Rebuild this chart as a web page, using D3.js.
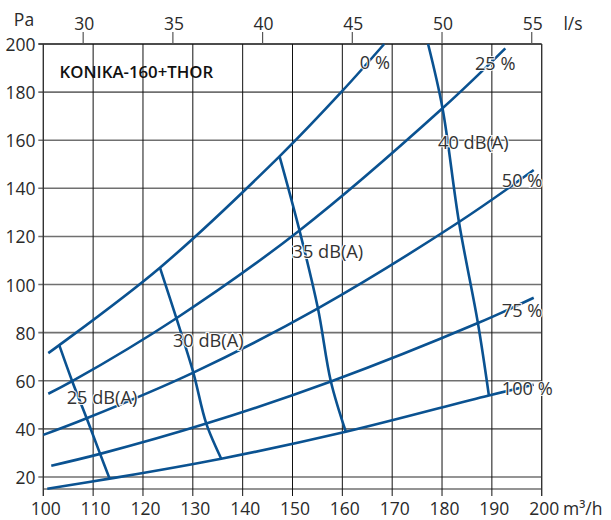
<!DOCTYPE html>
<html>
<head>
<meta charset="utf-8">
<script src="https://cdn.jsdelivr.net/npm/d3@7/dist/d3.min.js"></script>
<style>
  html, body { margin: 0; padding: 0; background: #fff; }
  svg { display: block; font-family: "Open Sans", "Noto Sans", sans-serif; }
</style>
</head>
<body>
<svg id="chart" width="611" height="520"></svg>
<script>
// ---- data (m³/h, Pa) ----
const xTicks = [100, 110, 120, 130, 140, 150, 160, 170, 180, 190, 200];
const yTicks = [20, 40, 60, 80, 100, 120, 140, 160, 180, 200];
const lsTicks = [30, 35, 40, 45, 50, 55];

const curve0 = [[101, 71.5], [103.2, 74.8], [123.4, 107], [147.4, 153.3], [160, 180.5], [168.4, 200]];
const curve25 = [[101, 54.6], [105.8, 59.8], [126.7, 86], [151.4, 122.5], [180.1, 173.3], [192.7, 198.2]];
const curve50 = [[100, 37.5], [108.7, 44.4], [130.1, 63.4], [155.1, 90.1], [183.4, 126], [198.4, 147.6]];
const curve75 = [[101.6, 24.7], [111.4, 29.6], [132.7, 42.2], [157.7, 59.7], [187.2, 84], [198.4, 94.5]];
const curve100 = [[100.8, 15.1], [113.3, 19.3], [135.7, 27.6], [160.7, 38.8], [189.4, 53.9], [198.4, 58.3]];

const db25 = [[103.2, 74.8], [105.8, 59.8], [108.7, 44.4], [111.4, 29.6], [113.3, 19.3]];
const db30 = [[123.4, 107], [126.7, 86], [130.1, 63.4], [132.7, 42.2], [135.7, 27.6]];
const db35 = [[147.4, 153.3], [151.4, 122.5], [155.1, 90.1], [157.7, 59.7], [160.7, 38.8]];
const db40 = [[177.2, 200], [180.1, 173.3], [183.4, 126], [187.2, 84], [189.4, 53.9]];

const curveLabels = ["0 %", "25 %", "50 %", "75 %", "100 %"];
const curveLabelPos = [[163.5, 192.6], [186.6, 192.2], [192, 143.4], [192, 89.3], [192, 56.8]];
const dbLabels = ["25 dB(A)", "30 dB(A)", "35 dB(A)", "40 dB(A)"];
const dbLabelPos = [[104.7, 53.3], [126, 76.9], [150, 114], [179.2, 159.3]];
const title = "KONIKA-160+THOR";

// ---- drawing ----
const svg = d3.select("#chart");
const x = d3.scaleLinear().domain([100, 200]).range([43.3, 541.7]);
const y = d3.scaleLinear().domain([15, 200]).range([489, 44]);
const lsToM3h = v => v * 3.6;
const txtCol = "#2a2a2a";
const blue = "#0a5291";
const fs = 17.5;

// horizontal grid (gray)
svg.append("g").selectAll("line").data(yTicks.concat([15])).join("line")
  .attr("x1", d => d === 15 ? x(100) : x(100) - 5).attr("x2", x(200))
  .attr("y1", d => y(d)).attr("y2", d => y(d))
  .attr("stroke", d => d === 200 ? "#111" : "#707070")
  .attr("stroke-width", d => d === 200 ? 1.4 : 1.6);

// vertical grid (black)
svg.append("g").selectAll("line").data(xTicks).join("line")
  .attr("x1", d => x(d)).attr("x2", d => x(d))
  .attr("y1", y(200)).attr("y2", y(15) + 7)
  .attr("stroke", (d, i) => (i === 0 || i === xTicks.length - 1) ? "#333" : "#111")
  .attr("stroke-width", (d, i) => (i === 0 || i === xTicks.length - 1) ? 1.4 : 1);

// top l/s ticks
svg.append("g").selectAll("line").data(lsTicks).join("line")
  .attr("x1", d => x(lsToM3h(d))).attr("x2", d => x(lsToM3h(d)))
  .attr("y1", y(200)).attr("y2", y(200) - 12)
  .attr("stroke", "#555").attr("stroke-width", 1.2);

svg.append("g").selectAll("text").data(lsTicks).join("text")
  .attr("x", d => x(lsToM3h(d)) + 1).attr("y", 23)
  .attr("text-anchor", "middle").attr("dominant-baseline", "central")
  .attr("font-size", fs).attr("fill", txtCol).text(d => d);

svg.append("text").attr("x", 573).attr("y", 23)
  .attr("text-anchor", "middle").attr("dominant-baseline", "central")
  .attr("font-size", fs).attr("fill", txtCol).text("l/s");

svg.append("text").attr("x", 24).attr("y", 19)
  .attr("text-anchor", "middle").attr("dominant-baseline", "central")
  .attr("font-size", fs).attr("fill", txtCol).text("Pa");

// y labels
svg.append("g").selectAll("text").data(yTicks).join("text")
  .attr("x", 35.5).attr("y", d => y(d))
  .attr("text-anchor", "end").attr("dominant-baseline", "central")
  .attr("font-size", fs).attr("fill", txtCol).text(d => d);

// x labels
svg.append("g").selectAll("text").data(xTicks).join("text")
  .attr("x", d => x(d) + 2.5).attr("y", 508)
  .attr("text-anchor", "middle").attr("dominant-baseline", "central")
  .attr("font-size", fs).attr("fill", txtCol).text(d => d);

svg.append("text").attr("x", 563).attr("y", 508)
  .attr("dominant-baseline", "central")
  .attr("font-size", fs).attr("fill", txtCol).text("m³/h");

// curves
const line = d3.line().x(d => x(d[0])).y(d => y(d[1])).curve(d3.curveCatmullRom.alpha(0.5));
const allCurves = [curve0, curve25, curve50, curve75, curve100, db25, db30, db35, db40];
svg.append("g").selectAll("path").data(allCurves).join("path")
  .attr("d", line).attr("fill", "none")
  .attr("stroke", blue).attr("stroke-width", 2.6)
  .attr("stroke-linecap", "butt").attr("stroke-linejoin", "round");

// labels with white halo
function halo(sel) {
  sel.attr("font-size", 18.2).attr("fill", "#333")
    .attr("stroke", "#fff").attr("stroke-width", 2.2).attr("stroke-opacity", 0.9)
    .attr("paint-order", "stroke").attr("dominant-baseline", "central");
}
svg.append("g").selectAll("text").data(curveLabels).join("text")
  .attr("x", (d, i) => x(curveLabelPos[i][0])).attr("y", (d, i) => y(curveLabelPos[i][1]))
  .call(halo).text(d => d);
svg.append("g").selectAll("text").data(dbLabels).join("text")
  .attr("x", (d, i) => x(dbLabelPos[i][0])).attr("y", (d, i) => y(dbLabelPos[i][1]))
  .call(halo).text(d => d);

svg.append("text").attr("x", 59.5).attr("y", 71)
  .attr("dominant-baseline", "central").attr("font-size", 16.8)
  .attr("font-weight", 600).attr("fill", "#111").text(title);
</script>
</body>
</html>
